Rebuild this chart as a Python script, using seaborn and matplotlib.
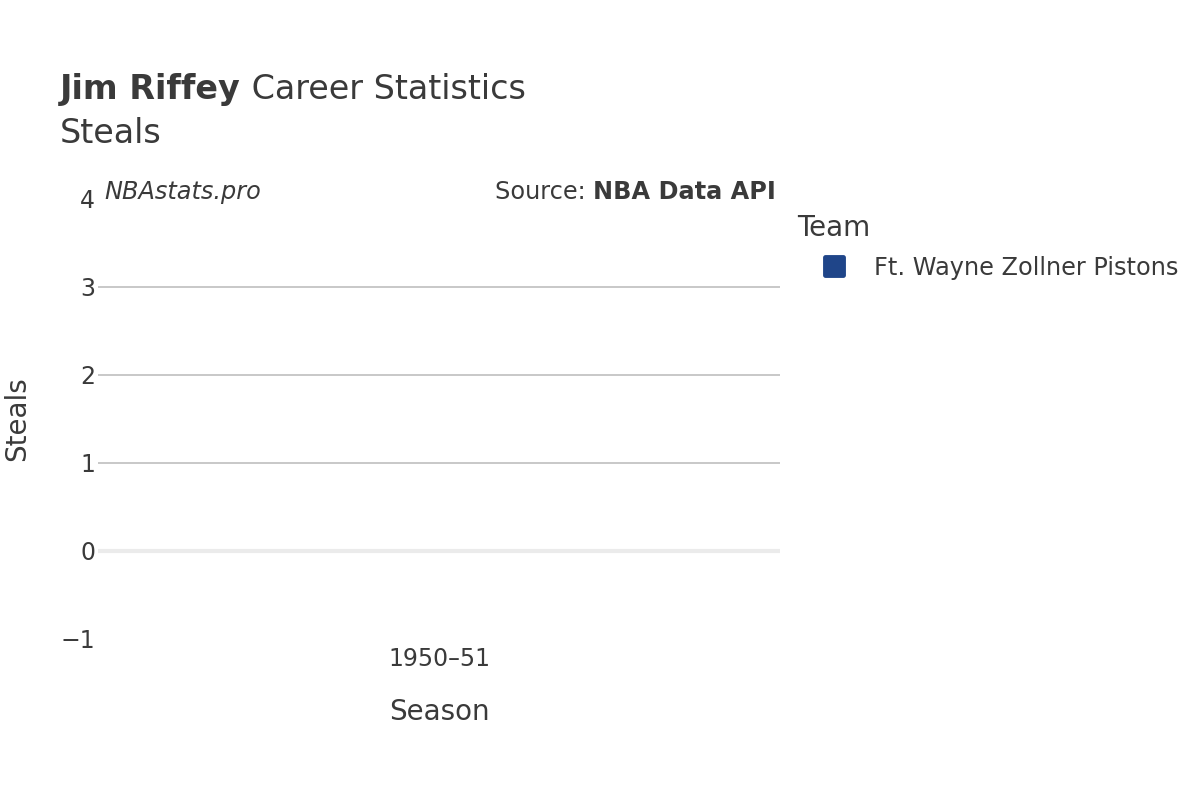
import matplotlib
matplotlib.use("Agg")
import matplotlib.pyplot as plt
import seaborn as sns
import pandas as pd
from matplotlib.lines import Line2D
from matplotlib.markers import MarkerStyle

seasons = ["1950–51"]
teams = ["Ft. Wayne Zollner Pistons"]
steals = [0]
team_colors = ["#1f4589"]
y_ticks = [-1, 0, 1, 2, 3, 4]

df = pd.DataFrame({"Season": seasons, "Team": teams, "Steals": steals})

sns.set_theme(style="white")
plt.rcParams["font.family"] = ["DejaVu Sans"]
TXT = "#3a3a3a"

fig = plt.figure(figsize=(12, 8), dpi=100)
L, R, T, B = 98, 780, 199, 639
ax = fig.add_axes([L/1200, 1-B/800, (R-L)/1200, (B-T)/800])

sns.barplot(data=df, x="Season", y="Steals", hue="Team",
            palette=team_colors, ax=ax, legend=False, width=0.8, linewidth=0)

ax.set_ylim(-1, 4)
ax.set_yticks(y_ticks)
ax.set_yticklabels(["−1" if v < 0 else str(v) for v in y_ticks])
for v in [1, 2, 3]:
    ax.axhline(v, color="#c4c4c4", lw=1.3, zorder=0)
ax.axhline(0, color="#ebebeb", lw=3, zorder=0)
for s in ax.spines.values():
    s.set_visible(False)
ax.tick_params(axis="both", length=0, labelsize=17, colors=TXT)
ax.tick_params(axis="y", pad=2)
ax.tick_params(axis="x", pad=6)
ax.set_xlabel("Season", fontsize=20, color=TXT)
ax.set_ylabel("Steals", fontsize=20, color=TXT)
ax.xaxis.label.set_va("center")
ax.yaxis.label.set_va("center")
ax.xaxis.set_label_coords(0.5, (B-712)/(B-T))
ax.yaxis.set_label_coords((17-L)/(R-L), 0.5)

# Title
t1 = fig.text(60/1200, 1-99/800, "Jim Riffey", fontsize=24, fontweight="bold", color=TXT)
fig.canvas.draw()
r = fig.canvas.get_renderer()
bb = t1.get_window_extent(renderer=r)
fig.text(bb.x1/1200, 1-99/800, " Career Statistics", fontsize=24, color=TXT)
fig.text(60/1200, 1-143/800, "Steals", fontsize=24, color=TXT)

# Watermark / source
fig.text(104/1200, 1-199/800, "NBAstats.pro", fontsize=17.3, style="italic", color=TXT)
s2 = fig.text(776/1200, 1-199/800, "NBA Data API", fontsize=17.3, fontweight="bold", color=TXT, ha="right")
fig.canvas.draw()
bb2 = s2.get_window_extent(renderer=r)
fig.text(bb2.x0/1200, 1-199/800, "Source: ", fontsize=17.3, color=TXT, ha="right")

# Legend
mk = MarkerStyle("s", joinstyle="round")
handles = [Line2D([0], [0], marker=mk, linestyle="", markersize=12.5,
                  markerfacecolor=c, markeredgecolor=c, markeredgewidth=3.5) for c in team_colors]
leg = fig.legend(handles, teams, title="Team", loc="upper left",
                 bbox_to_anchor=(797/1200, 1-214/800), frameon=False,
                 fontsize=17.3, title_fontsize=20, handlelength=3.04, handletextpad=0.17,
                 labelcolor=TXT, borderaxespad=0, borderpad=0)
leg.get_title().set_color(TXT)
leg._legend_box.align = "left"
leg._legend_box.sep = 10

fig.savefig("out.png", dpi=100)
